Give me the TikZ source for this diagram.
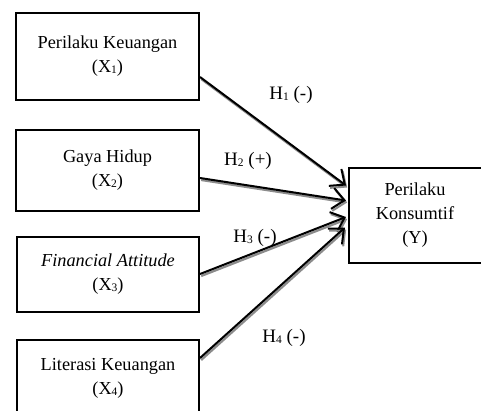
\documentclass[tikz,border=0pt]{standalone}
\usepackage{fontspec}
\setmainfont{Liberation Serif}
\usetikzlibrary{arrows.meta,calc}
\tikzset{
  box/.style={draw=black, line width=2pt, minimum width=183pt, align=center, font=\fontsize{18.3}{24}\selectfont, inner sep=0pt},
  lbl/.style={font=\fontsize{19}{20}\selectfont, inner sep=0pt},
  rel/.style={line width=2pt, -{Straight Barb[length=12pt,width=21pt,line width=2pt]},
    preaction={draw=black!45, line width=2.2pt, transform canvas={shift={(1.2pt,-2pt)}}}}
}
\newcommand{\sx}[1]{\raisebox{-1pt}{\fontsize{11.5}{11.5}\selectfont #1}}
\begin{document}
\begin{tikzpicture}[x=1pt,y=-1pt]
\clip (0,0) rectangle (481,410);
\fill[white] (0,0) rectangle (481,410);
\node[box, minimum height=87pt] (b1) at (107.5,56.5) {Perilaku Keuangan\\(X\sx{1})};
\node[box, minimum height=81pt] (b2) at (107.5,170.5) {Gaya Hidup\\(X\sx{2})};
\node[box, minimum width=182pt, minimum height=75pt] (b3) at (108,274.5) {\textit{Financial Attitude}\\(X\sx{3})};
\node[box, minimum width=182pt, minimum height=76pt] (b4) at (108,378) {Literasi Keuangan\\(X\sx{4})};
\node[box, minimum width=140pt, minimum height=95pt, text width=130pt] (y) at (419,215.5) {\hspace*{-8pt}Perilaku\\\hspace*{-8pt}Konsumtif\\\hspace*{-8pt}(Y)};
\draw[rel] ($(b1.east)+(0,20.5)$) -- ($(y.west)+(-2,-30)$);
\draw[rel] ($(b2.east)+(0,7.5)$) -- ($(y.west)+(-2,-15)$);
\draw[rel] ($(b3.east)+(0,-0.5)$) -- ($(y.west)+(-2,1.5)$);
\draw[rel] ($(b4.east)+(0,-20)$) -- ($(y.west)+(-3,12)$);
\node[lbl] (h1) at (291,95) {H\sx{1} (-)};
\node[lbl] (h2) at (248,161) {H\sx{2} (+)};
\node[lbl] (h3) at (255,238) {H\sx{3} (-)};
\node[lbl] (h4) at (284,338) {H\sx{4} (-)};
\end{tikzpicture}
\end{document}
